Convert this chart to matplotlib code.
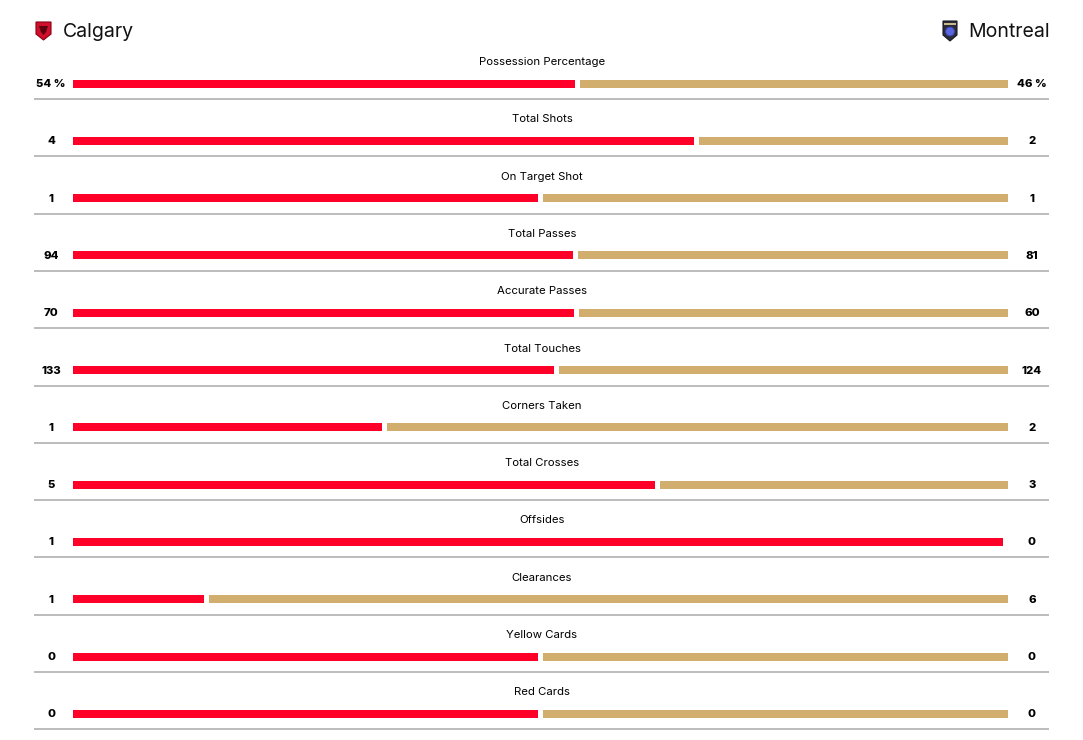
import matplotlib
matplotlib.use("Agg")
import matplotlib.pyplot as plt
from matplotlib.patches import Polygon, Circle
import numpy as np

plt.rcParams['font.family'] = ['Inter', 'DejaVu Sans']

home_team = "Calgary"
away_team = "Montreal"
stats = ["Possession Percentage", "Total Shots", "On Target Shot", "Total Passes",
         "Accurate Passes", "Total Touches", "Corners Taken", "Total Crosses",
         "Offsides", "Clearances", "Yellow Cards", "Red Cards"]
home_vals = [54, 4, 1, 94, 70, 133, 1, 5, 1, 1, 0, 0]
away_vals = [46, 2, 1, 81, 60, 124, 2, 3, 0, 6, 0, 0]
home_labels = ["54 %", "4", "1", "94", "70", "133", "1", "5", "1", "1", "0", "0"]
away_labels = ["46 %", "2", "1", "81", "60", "124", "2", "3", "0", "6", "0", "0"]

RED = "#FF0028"
TAN = "#D1AE6D"

W, H = 1083, 740
fig = plt.figure(figsize=(W / 100, H / 100), dpi=100)
ax = fig.add_axes([0, 0, 1, 1])
ax.set_xlim(0, W)
ax.set_ylim(H, 0)
ax.axis("off")

x0, x1 = 73, 1008
span = x1 - x0
gap = 2.5
bar_h = 8
row0 = 83.5
step = 57.3

for i, (name, hv, av) in enumerate(zip(stats, home_vals, away_vals)):
    y = row0 + i * step
    tot = hv + av
    frac = hv / tot if tot > 0 else 0.5
    split = x0 + frac * span
    if hv > 0 or tot == 0:
        ax.barh(y, (split - gap) - x0 if av > 0 or tot == 0 else (split - 2 * gap) - x0,
                left=x0, height=bar_h, color=RED, linewidth=0)
    if av > 0 or tot == 0:
        ax.barh(y, x1 - (split + gap) if hv > 0 or tot == 0 else x1 - (split + 2 * gap),
                left=split + gap if hv > 0 or tot == 0 else split + 2 * gap,
                height=bar_h, color=TAN, linewidth=0)
    ax.text(542, y - 21.5, name, ha="center", va="center", fontsize=8.2, color="#000000")
    ax.text(51, y + 0.5, home_labels[i], ha="center", va="center", fontsize=8.2,
            fontweight="heavy", color="#000000")
    ax.text(1032, y + 0.5, away_labels[i], ha="center", va="center", fontsize=8.2,
            fontweight="heavy", color="#000000")
    ax.plot([34, 1049], [y + 15.5, y + 15.5], color="#AAAAAA", linewidth=1.1,
            solid_capstyle="butt")

# Header team names
ax.text(63, 32, home_team, ha="left", va="center", fontsize=14, color="#111111")
ax.text(1050, 32, away_team, ha="right", va="center", fontsize=14, color="#111111")

# Calgary crest (simple shield)
shield_c = np.array([[36, 22], [51, 22], [51, 34], [43.5, 40], [36, 34]])
ax.add_patch(Polygon(shield_c, closed=True, facecolor="#D0102A", edgecolor="#8A0018", linewidth=0.8))
ax.add_patch(Polygon([[39, 26], [48, 26], [46, 32], [43.5, 35], [41, 32]], closed=True,
                     facecolor="#5A0010", edgecolor="none"))

# Montreal crest (simple shield with blue rose)
shield_m = np.array([[943, 21], [957, 21], [957, 35], [950, 41], [943, 35]])
ax.add_patch(Polygon(shield_m, closed=True, facecolor="#2B2B3A", edgecolor="#1A1A25", linewidth=0.8))
ax.add_patch(Circle((950, 31.5), 4.4, facecolor="#5A66E0", edgecolor="#3A44B0", linewidth=0.6))
ax.add_patch(Polygon([[944, 22.5], [956, 22.5], [956, 25], [944, 25]], closed=True,
                     facecolor="#C8B98A", edgecolor="none"))

fig.savefig("out.png", dpi=100, facecolor="white")
